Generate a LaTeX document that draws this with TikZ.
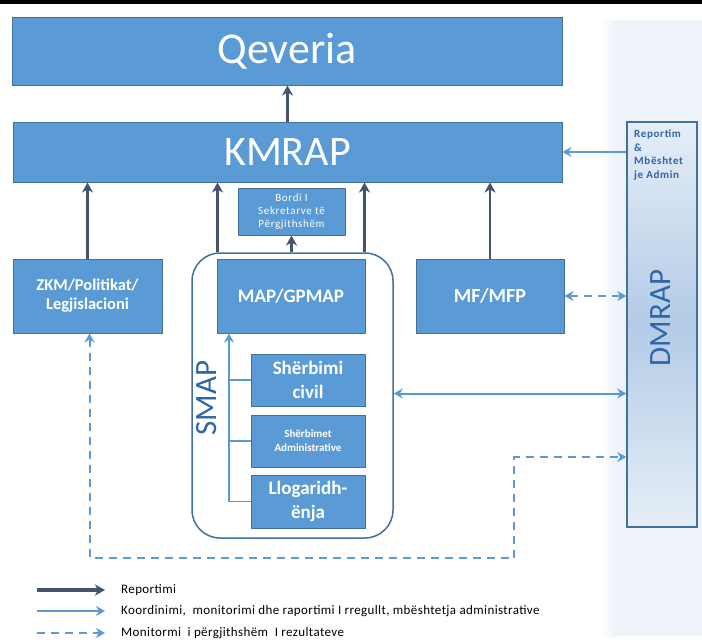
\documentclass[tikz,border=0pt]{standalone}
\usepackage{fontspec}
\setmainfont{Carlito}
\newfontfamily\spacedfont[LetterSpace=6]{Carlito}
\newfontfamily\legfont[LetterSpace=3]{Carlito}
\usetikzlibrary{arrows.meta,calc}
\definecolor{boxfill}{HTML}{5B9BD5}
\definecolor{boxline}{HTML}{41719C}
\definecolor{darkarr}{HTML}{44546A}
\definecolor{lightarr}{HTML}{5B9BD5}
\definecolor{txtblue}{HTML}{2E66A8}
\definecolor{panelc}{HTML}{EEF3FA}
\definecolor{dmtop}{HTML}{E6EEF7}
\definecolor{dmmid}{HTML}{B3CBE6}
\begin{document}
\begin{tikzpicture}[x=1pt,y=-1pt,
 box/.style={draw=boxline, line width=1pt, fill=boxfill, text=white, align=center, inner sep=0pt},
 rep/.style={draw=darkarr, line width=2.5pt, -{Stealth[length=10pt,width=11pt,inset=3pt]}},
 crd/.style={draw=lightarr, line width=2pt, -{Stealth[length=9pt,width=10pt,inset=3pt]}},
 crdd/.style={draw=lightarr, line width=2pt, {Stealth[length=9pt,width=10pt,inset=3pt]}-{Stealth[length=9pt,width=10pt,inset=3pt]}},
 mon/.style={draw=lightarr, line width=2pt, dash pattern=on 8pt off 6pt, {Stealth[length=9pt,width=10pt,inset=3pt]}-{Stealth[length=9pt,width=10pt,inset=3pt]}},
 monl/.style={draw=lightarr, line width=2pt, dash pattern=on 8pt off 6pt, -{Stealth[length=9pt,width=10pt,inset=3pt]}},
 spine/.style={draw=lightarr, line width=1.6pt},
 legtxt/.style={anchor=west, font=\legfont\fontsize{13}{15}\selectfont, text=black, inner sep=0pt}
]
\useasboundingbox (0,0) rectangle (702,643);
\fill[white] (0,0) rectangle (702,643);
\fill[black] (0,0) rectangle (702,3.5);
% right panel
\fill[panelc] (608,20) rectangle (702,636);
\shade[left color=white, right color=panelc] (600,20) rectangle (616,636);

% boxes
\node[box, minimum width=550pt, minimum height=68pt, font=\fontsize{44}{44}\selectfont] (qev) at (287,51) {Qeveria};
\node[box, minimum width=549pt, minimum height=60pt, font=\fontsize{42}{42}\selectfont] (kmrap) at (287.5,152) {KMRAP};
\node[box, minimum width=107pt, minimum height=47pt, font=\spacedfont\fontsize{11}{13}\selectfont] (bordi) at (291.5,211.5) {Bordi I\\Sekretarve të\\Përgjithshëm};
\node[draw=boxline, line width=1.5pt, rounded corners=28pt, minimum width=201pt, minimum height=285pt, inner sep=0pt] (smap) at (292.5,395.5) {};
\node[box, minimum width=149pt, minimum height=74pt, font=\bfseries\fontsize{16.5}{19}\selectfont] (zkm) at (87.5,296) {ZKM/Politikat/\\Legjislacioni};
\node[box, minimum width=148pt, minimum height=74pt, font=\bfseries\fontsize{19}{22}\selectfont] (map) at (291,296) {MAP/GPMAP};
\node[box, minimum width=148pt, minimum height=74pt, font=\bfseries\fontsize{20}{22}\selectfont] (mf) at (490,296) {MF/MFP};
\node[box, minimum width=114pt, minimum height=52pt, font=\bfseries\fontsize{19}{24}\selectfont] (civ) at (308,380) {Shërbimi\\civil};
\node[box, minimum width=114pt, minimum height=52pt, font=\bfseries\fontsize{11}{14}\selectfont] (adm) at (308,441) {Shërbimet\\Administrative};
\node[box, minimum width=114pt, minimum height=53pt, font=\bfseries\fontsize{19}{24}\selectfont] (llog) at (308,501.5) {Llogaridh-\\ënja};
\node[draw=boxline, line width=1.5pt, top color=dmtop, bottom color=dmtop, middle color=dmmid, minimum width=70pt, minimum height=405pt, inner sep=0pt] (dmrap) at (662,324.5) {};
\node[anchor=north west, align=left, text=txtblue, font=\spacedfont\bfseries\fontsize{11}{13.5}\selectfont, inner sep=0pt] (rep) at (634,130) {Reportim\\\&\\Mbështet\\je Admin};
\node[rotate=90, text=txtblue, font=\fontsize{31}{31}\selectfont, inner sep=0pt] (dmtxt) at (661,318) {DMRAP};
\node[rotate=90, text=txtblue, font=\fontsize{31}{31}\selectfont, inner sep=0pt] (smtxt) at (207,398) {SMAP};

% reporting arrows
\draw[rep] (kmrap.north) -- (kmrap.north |- qev.south);
\draw[rep] (zkm.north) -- (zkm.north |- kmrap.south);
\draw[rep] ([xshift=1pt]smap.north -| map.west) -- ([xshift=1pt]map.west |- kmrap.south);
\draw[rep] ([xshift=-1pt]smap.north -| map.east) -- ([xshift=-1pt]map.east |- kmrap.south);
\draw[rep] (smap.north -| bordi.south) -- (bordi.south);
\draw[rep] (mf.north) -- (mf.north |- kmrap.south);

% coordination arrows
\draw[crd] (dmrap.west |- kmrap.east) -- (kmrap.east);
\draw[crdd] ([yshift=2pt]smap.east) -- ([yshift=2pt]smap.east -| dmrap.west);
\draw[mon] (mf.east) -- (mf.east -| dmrap.west);
\coordinate (sp) at (229,501.5);
\draw[spine] (llog.west) -- (sp);
\draw[spine] (civ.west) -- (civ.west -| sp);
\draw[spine] (adm.west) -- (adm.west -| sp);
\draw[crd, line width=1.6pt] (sp) -- (sp |- map.south);
\coordinate (dm3) at (dmrap.west |- 0,457);
\draw[mon] ([xshift=2pt]zkm.south) |- (514,558) |- (dm3);

% legend
\coordinate (l1a) at (37,590); \coordinate (l1b) at (105,590);
\coordinate (l2a) at (37,611); \coordinate (l2b) at (105,611);
\coordinate (l3a) at (37,633); \coordinate (l3b) at (105,633);
\draw[rep, line width=3.5pt] (l1a) -- (l1b);
\draw[crd] (l2a) -- (l2b);
\draw[monl] (l3a) -- (l3b);
\node[legtxt] (t1) at (121,590) {Reportimi};
\node[legtxt] (t2) at (121,611) {Koordinimi,\ \ monitorimi dhe raportimi I rregullt, mbështetja administrative};
\node[legtxt] (t3) at (121,633) {Monitormi\ \ i përgjithshëm\ \ I rezultateve};
\end{tikzpicture}
\end{document}
